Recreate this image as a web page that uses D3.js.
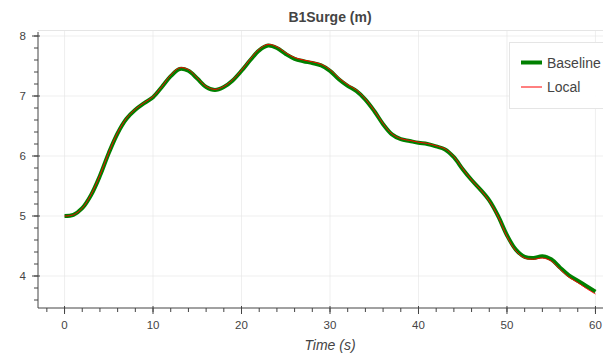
<!DOCTYPE html>
<html>
<head>
<meta charset="utf-8">
<script src="https://cdn.jsdelivr.net/npm/d3@7"></script>
<style>
  body { margin: 0; background: #fff; }
  svg { display: block; font-family: "Liberation Sans", Arial, sans-serif; }
</style>
</head>
<body>
<div class="svg-container"></div>
<script>
// time samples (s)
const time = d3.range(0, 61);

// B1Surge baseline (m)
const baseline = [
  5.00, 5.02, 5.13, 5.35, 5.67, 6.05, 6.38, 6.62, 6.77, 6.88,
  6.98, 7.15, 7.33, 7.45, 7.42, 7.29, 7.15, 7.10, 7.15, 7.26,
  7.42, 7.60, 7.76, 7.84, 7.80, 7.70, 7.62, 7.58, 7.55, 7.51,
  7.42, 7.28, 7.17, 7.08, 6.94, 6.75, 6.53, 6.36, 6.28, 6.25,
  6.22, 6.20, 6.16, 6.11, 5.98, 5.78, 5.60, 5.44, 5.26, 5.00,
  4.68, 4.44, 4.32, 4.30, 4.33, 4.28, 4.14, 4.01, 3.92, 3.83,
  3.74
];

// B1Surge local (m)
const local = [
  5.00, 5.02, 5.13, 5.36, 5.68, 6.06, 6.39, 6.63, 6.78, 6.89,
  6.99, 7.16, 7.35, 7.47, 7.44, 7.30, 7.16, 7.11, 7.16, 7.27,
  7.43, 7.62, 7.78, 7.86, 7.82, 7.72, 7.64, 7.60, 7.57, 7.53,
  7.44, 7.30, 7.19, 7.10, 6.95, 6.76, 6.54, 6.37, 6.29, 6.26,
  6.23, 6.21, 6.17, 6.12, 5.99, 5.79, 5.60, 5.44, 5.25, 4.99,
  4.66, 4.42, 4.30, 4.28, 4.30, 4.25, 4.11, 3.98, 3.89, 3.79,
  3.70
];

const xTicks = [0, 10, 20, 30, 40, 50, 60];
const yTicks = [4, 5, 6, 7, 8];

const width = 603;
const height = 356;
const frame = { left: 38, top: 30, right: 622, bottom: 308 };

const svg = d3.select('.svg-container')
  .append('svg')
  .attr('width', width)
  .attr('height', height);

const x = d3.scaleLinear().domain([-3, 63]).range([frame.left, frame.right]);
const y = d3.scaleLinear().domain([3.4667, 8.1]).range([frame.bottom, frame.top]);

// grid
svg.append('g')
  .selectAll('line')
  .data(xTicks)
  .enter().append('line')
  .attr('x1', d => x(d)).attr('x2', d => x(d))
  .attr('y1', frame.top).attr('y2', frame.bottom)
  .attr('stroke', '#e5e5e5').attr('stroke-opacity', 0.6);

svg.append('g')
  .selectAll('line')
  .data(yTicks)
  .enter().append('line')
  .attr('x1', frame.left).attr('x2', frame.right)
  .attr('y1', d => y(d)).attr('y2', d => y(d))
  .attr('stroke', '#e5e5e5').attr('stroke-opacity', 0.6);

// outline
svg.append('line')
  .attr('x1', frame.left).attr('x2', frame.right)
  .attr('y1', frame.top + 0.5).attr('y2', frame.top + 0.5)
  .attr('stroke', '#e5e5e5');

// lines
const line = d3.line()
  .x((d, i) => x(time[i]))
  .y(d => y(d))
  .curve(d3.curveCatmullRom);

svg.append('path')
  .datum(baseline)
  .attr('d', line)
  .attr('fill', 'none')
  .attr('stroke', 'green')
  .attr('stroke-width', 4);

svg.append('path')
  .datum(local)
  .attr('d', line)
  .attr('fill', 'none')
  .attr('stroke', 'red')
  .attr('stroke-width', 1);

// x axis
const xAxis = svg.append('g')
  .attr('transform', `translate(0,${frame.bottom})`);

xAxis.append('line')
  .attr('x1', frame.left).attr('x2', frame.right)
  .attr('stroke', '#444').attr('stroke-width', 1);

xAxis.selectAll('.minor')
  .data(d3.range(-2, 63, 2))
  .enter().append('line')
  .attr('x1', d => x(d)).attr('x2', d => x(d))
  .attr('y1', 0).attr('y2', 4)
  .attr('stroke', '#444');

xAxis.selectAll('.major')
  .data(xTicks)
  .enter().append('line')
  .attr('x1', d => x(d)).attr('x2', d => x(d))
  .attr('y1', -2).attr('y2', 6)
  .attr('stroke', '#444');

xAxis.selectAll('text')
  .data(xTicks)
  .enter().append('text')
  .attr('x', d => x(d))
  .attr('y', 21)
  .attr('text-anchor', 'middle')
  .attr('fill', '#444')
  .style('font-size', '11.5px')
  .text(d => d);

svg.append('text')
  .attr('x', (frame.left + frame.right) / 2)
  .attr('y', 350)
  .attr('text-anchor', 'middle')
  .attr('fill', '#444')
  .style('font-size', '14px')
  .style('font-style', 'italic')
  .text('Time (s)');

// y axis
const yAxis = svg.append('g')
  .attr('transform', `translate(${frame.left},0)`);

yAxis.append('line')
  .attr('y1', frame.top + 2).attr('y2', frame.bottom)
  .attr('stroke', '#444');

yAxis.selectAll('.minor')
  .data(d3.range(3.6, 8.05, 0.2))
  .enter().append('line')
  .attr('y1', d => y(d)).attr('y2', d => y(d))
  .attr('x1', -4).attr('x2', 0)
  .attr('stroke', '#444');

yAxis.selectAll('.major')
  .data(yTicks)
  .enter().append('line')
  .attr('y1', d => y(d)).attr('y2', d => y(d))
  .attr('x1', -6).attr('x2', 2)
  .attr('stroke', '#444');

yAxis.selectAll('text')
  .data(yTicks)
  .enter().append('text')
  .attr('x', -12)
  .attr('y', d => y(d) + 4)
  .attr('text-anchor', 'end')
  .attr('fill', '#444')
  .style('font-size', '11.5px')
  .text(d => d);

// title
svg.append('text')
  .attr('x', (frame.left + frame.right) / 2)
  .attr('y', 22)
  .attr('text-anchor', 'middle')
  .attr('fill', '#444')
  .style('font-size', '14px')
  .style('font-weight', 'bold')
  .text('B1Surge (m)');

// legend
const legendItems = [
  { name: 'Baseline', colour: 'green', w: 4 },
  { name: 'Local', colour: 'red', w: 1 }
];

const legend = svg.append('g');
legend.append('rect')
  .attr('x', 509.5).attr('y', 42.5)
  .attr('width', 120).attr('height', 66)
  .attr('fill', '#fff').attr('fill-opacity', 0.95)
  .attr('stroke', '#e5e5e5');

const item = legend.selectAll('g')
  .data(legendItems)
  .enter().append('g')
  .attr('transform', (d, i) => `translate(0,${62.5 + i * 24.5})`);

item.append('line')
  .attr('x1', 521).attr('x2', 542)
  .attr('stroke', d => d.colour)
  .attr('stroke-width', d => d.w);

item.append('text')
  .attr('x', 547)
  .attr('y', 5)
  .attr('fill', '#444')
  .style('font-size', '14px')
  .text(d => d.name);
</script>
</body>
</html>
